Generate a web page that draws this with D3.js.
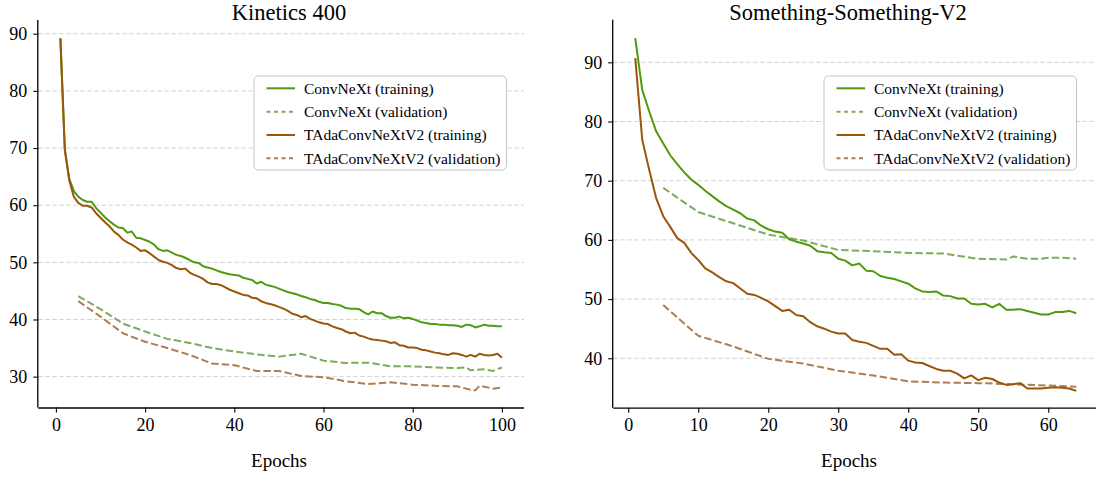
<!DOCTYPE html>
<html>
<head>
<meta charset="utf-8">
<script src="https://cdn.jsdelivr.net/npm/d3@7"></script>
<style>
  html, body { margin: 0; padding: 0; background: #fff; }
  svg { display: block; font-family: "Liberation Serif", "Times New Roman", serif; }
</style>
</head>
<body>
<svg id="chart" width="1096" height="477"></svg>
<script>
// ---------------- DATA ----------------
const seriesNames = ["ConvNeXt (training)", "ConvNeXt (validation)", "TAdaConvNeXtV2 (training)", "TAdaConvNeXtV2 (validation)"];

// Kinetics 400
const k400TrainEpochs = d3.range(1, 101);
const k400ConvTrain = [89.2,69.8,64.6,62.5,61.5,60.9,60.6,60.6,59.5,58.7,
  57.9,57.2,56.6,56.1,56.0,55.2,55.4,54.3,54.2,53.9,
  53.6,53.1,52.3,52.0,52.1,51.7,51.3,51.1,50.8,50.4,
  50.0,49.9,49.3,49.1,48.9,48.6,48.3,48.1,47.9,47.8,
  47.7,47.3,47.1,46.9,46.3,46.6,46.1,45.9,45.7,45.4,
  45.1,44.8,44.6,44.4,44.1,43.9,43.6,43.4,43.1,42.9,
  42.9,42.7,42.6,42.4,42.0,41.9,41.9,41.8,41.3,40.9,
  41.4,41.1,41.1,40.6,40.3,40.3,40.5,40.2,40.3,40.1,
  39.8,39.5,39.4,39.2,39.2,39.1,39.1,39.0,39.0,38.9,
  38.7,39.1,39.0,38.6,38.8,39.1,38.9,38.9,38.8,38.8];
const k400TadaTrain = [89.2,69.6,64.3,61.5,60.4,59.9,59.9,59.6,58.6,57.8,
  57.0,56.3,55.4,54.8,54.0,53.5,53.1,52.6,52.0,52.1,
  51.6,51.0,50.4,50.1,49.9,49.5,49.0,48.8,48.9,48.2,
  47.8,47.5,47.1,46.5,46.2,46.2,46.0,45.6,45.2,44.9,
  44.6,44.3,44.2,43.8,43.7,43.2,42.9,42.7,42.5,42.2,
  41.9,41.5,41.0,40.8,40.4,40.6,40.1,39.8,39.5,39.3,
  39.2,38.8,38.5,38.3,37.9,37.6,37.7,37.2,37.0,36.7,
  36.5,36.4,36.3,36.2,35.9,36.0,35.5,35.4,35.1,35.1,
  35.0,34.7,34.6,34.4,34.2,34.1,33.9,33.8,34.1,34.0,
  33.8,33.5,33.8,33.5,34.0,33.8,33.7,33.8,34.0,33.3];
const k400ConvValEpochs = [5,10,15,20,25,30,35,40,45,50,55,60,65,70,75,80,85,90,92,93,96,98,100];
const k400ConvVal = [44.1,41.8,39.3,37.9,36.6,35.9,35.0,34.4,33.9,33.5,34.0,32.8,32.4,32.45,31.8,31.8,31.6,31.5,31.6,31.1,31.3,31.0,31.6];
const k400TadaValEpochs = [5,10,15,20,25,30,35,40,45,50,55,60,65,70,75,80,85,90,93,94,95,98,100];
const k400TadaVal = [43.2,40.5,37.6,36.1,35.0,33.8,32.3,32.0,31.0,31.0,30.1,29.9,29.2,28.7,29.0,28.6,28.4,28.3,27.7,27.6,28.4,27.9,28.1];

// Something-Something-V2
const ssv2TrainEpochs = d3.range(1, 65);
const ssv2ConvTrain = [94.1,85.3,81.7,78.3,76.3,74.3,72.8,71.4,70.2,69.3,
  68.3,67.4,66.5,65.7,65.1,64.5,63.6,63.3,62.4,61.8,
  61.4,61.2,60.1,59.7,59.4,59.0,58.1,57.9,57.8,56.8,
  56.5,55.7,56.0,54.8,54.7,53.9,53.6,53.4,53.0,52.6,
  51.8,51.3,51.2,51.3,50.6,50.5,50.1,50.1,49.2,49.1,
  49.2,48.6,49.2,48.2,48.2,48.3,48.0,47.7,47.4,47.4,
  47.8,47.8,48.0,47.6];
const ssv2TadaTrain = [90.7,76.9,71.8,67.0,64.0,62.2,60.3,59.5,57.8,56.6,
  55.2,54.5,53.7,53.0,52.7,51.8,50.9,50.7,50.2,49.6,
  48.8,48.0,48.2,47.3,47.1,46.1,45.4,45.0,44.5,44.2,
  44.2,43.1,42.8,42.6,42.1,41.6,41.6,40.6,40.7,39.6,
  39.3,39.2,38.7,38.2,37.9,37.9,37.4,36.6,37.1,36.3,
  36.7,36.5,35.9,35.5,35.6,35.8,34.9,34.9,34.9,35.0,
  35.1,35.0,34.9,34.5];
const ssv2ConvValEpochs = [5,10,15,20,25,30,35,40,45,50,54,55,57,59,60,62,64];
const ssv2ConvVal = [68.8,64.7,62.8,60.9,59.9,58.3,58.1,57.8,57.7,56.8,56.7,57.2,56.8,56.8,57.0,57.0,56.8];
const ssv2TadaValEpochs = [5,10,15,20,25,30,35,40,45,50,55,60,64];
const ssv2TadaVal = [49.0,43.8,42.0,39.9,39.1,37.9,37.1,36.1,35.9,35.8,35.6,35.4,35.2];

const k400XTicks = [0,20,40,60,80,100];
const k400YTicks = [30,40,50,60,70,80,90];
const ssv2XTicks = [0,10,20,30,40,50,60];
const ssv2YTicks = [40,50,60,70,80,90];

// ---------------- STYLE ----------------
const colTrainGreen = "#4f9a0e";
const colValGreen = "#7fab5a";
const colTrainBrown = "#9a560b";
const colValBrown = "#ae7e52";

const svg = d3.select("#chart");

function drawPanel(cfg) {
  const x = d3.scaleLinear().domain(cfg.xDomain).range(cfg.xRange);
  const y = d3.scaleLinear().domain(cfg.yDomain).range(cfg.yRange);
  const g = svg.append("g");
  const [x0, x1] = cfg.xRange;
  const [yb, yt] = cfg.yRange;

  // grid
  g.append("g").selectAll("line").data(cfg.yTicks).join("line")
    .attr("x1", x0).attr("x2", x1)
    .attr("y1", d => y(d)).attr("y2", d => y(d))
    .attr("stroke", "#d2d2d2").attr("stroke-width", 1)
    .attr("stroke-dasharray", "4.5,2.5");

  // lines
  const line = (xs, ys) => d3.line().x((d, i) => x(xs[i])).y(d => y(d))(ys);
  const series = [
    {xs: cfg.convValX, ys: cfg.convVal, c: colValGreen, dash: "7.4,3.2"},
    {xs: cfg.tadaValX, ys: cfg.tadaVal, c: colValBrown, dash: "7.4,3.2"},
    {xs: cfg.trainX, ys: cfg.convTrain, c: colTrainGreen, dash: null},
    {xs: cfg.trainX, ys: cfg.tadaTrain, c: colTrainBrown, dash: null}
  ];
  series.forEach(s => {
    g.append("path").attr("d", line(s.xs, s.ys))
      .attr("fill", "none").attr("stroke", s.c).attr("stroke-width", 2)
      .attr("stroke-linejoin", "round")
      .attr("stroke-dasharray", s.dash);
  });

  // axes
  const xAxis = d3.axisBottom(x).tickValues(cfg.xTicks).tickSize(5).tickPadding(6).tickFormat(d3.format("d"));
  const yAxis = d3.axisLeft(y).tickValues(cfg.yTicks).tickSize(5).tickPadding(6).tickFormat(d3.format("d"));
  const gx = g.append("g").attr("transform", `translate(0,${yb})`).call(xAxis);
  const gy = g.append("g").attr("transform", `translate(${x0},0)`).call(yAxis);
  [gx, gy].forEach(a => {
    a.select(".domain").attr("stroke", "#000").attr("stroke-width", 1.3);
    a.selectAll(".tick line").attr("stroke", "#000").attr("stroke-width", 1.1);
    a.selectAll(".tick text").attr("fill", "#000")
      .style("font-family", "'Liberation Serif', serif").style("font-size", "18px");
  });
  gx.select(".domain").attr("d", `M${x0},0.5H${x1}`);
  gy.select(".domain").attr("d", `M-0.5,${yb}V${yt}`);

  // title & label
  g.append("text").attr("x", cfg.titleX).attr("y", 19.5).attr("text-anchor", "middle")
    .style("font-size", "22.5px").attr("fill", "#000").text(cfg.title);
  g.append("text").attr("x", cfg.labelX).attr("y", 467).attr("text-anchor", "middle")
    .style("font-size", "19px").attr("fill", "#000").text("Epochs");

  // legend
  const lg = g.append("g").attr("transform", `translate(${cfg.legendX},76)`);
  lg.append("rect").attr("x", 0).attr("y", 0).attr("width", 252.5).attr("height", 94)
    .attr("rx", 4.5).attr("fill", "#fff").attr("fill-opacity", 0.85)
    .attr("stroke", "#c4c4c4").attr("stroke-width", 1);
  const items = [
    {c: colTrainGreen, dash: null},
    {c: colValGreen, dash: "4,3.5"},
    {c: colTrainBrown, dash: null},
    {c: colValBrown, dash: "4,3.5"}
  ];
  items.forEach((it, i) => {
    const yy = 12.3 + i * 23.35;
    lg.append("line").attr("x1", 12.5).attr("x2", 41).attr("y1", yy).attr("y2", yy)
      .attr("stroke", it.c).attr("stroke-width", 2).attr("stroke-dasharray", it.dash);
    lg.append("text").attr("x", 50).attr("y", yy + 5.2)
      .style("font-size", "15.5px").attr("fill", "#000").text(seriesNames[i]);
  });
}

drawPanel({
  title: "Kinetics 400", titleX: 289, labelX: 279,
  xDomain: [-3.95, 104.95], xRange: [38.3, 524],
  yDomain: [24.6, 92.4], yRange: [407.5, 20],
  xTicks: k400XTicks, yTicks: k400YTicks,
  trainX: k400TrainEpochs, convTrain: k400ConvTrain, tadaTrain: k400TadaTrain,
  convValX: k400ConvValEpochs, convVal: k400ConvVal,
  tadaValX: k400TadaValEpochs, tadaVal: k400TadaVal,
  legendX: 254
});

drawPanel({
  title: "Something-Something-V2", titleX: 848, labelX: 849,
  xDomain: [-2.15, 67.15], xRange: [613.2, 1098.3],
  yDomain: [31.65, 97.2], yRange: [407.7, 19.7],
  xTicks: ssv2XTicks, yTicks: ssv2YTicks,
  trainX: ssv2TrainEpochs, convTrain: ssv2ConvTrain, tadaTrain: ssv2TadaTrain,
  convValX: ssv2ConvValEpochs, convVal: ssv2ConvVal,
  tadaValX: ssv2TadaValEpochs, tadaVal: ssv2TadaVal,
  legendX: 824
});
</script>
</body>
</html>
